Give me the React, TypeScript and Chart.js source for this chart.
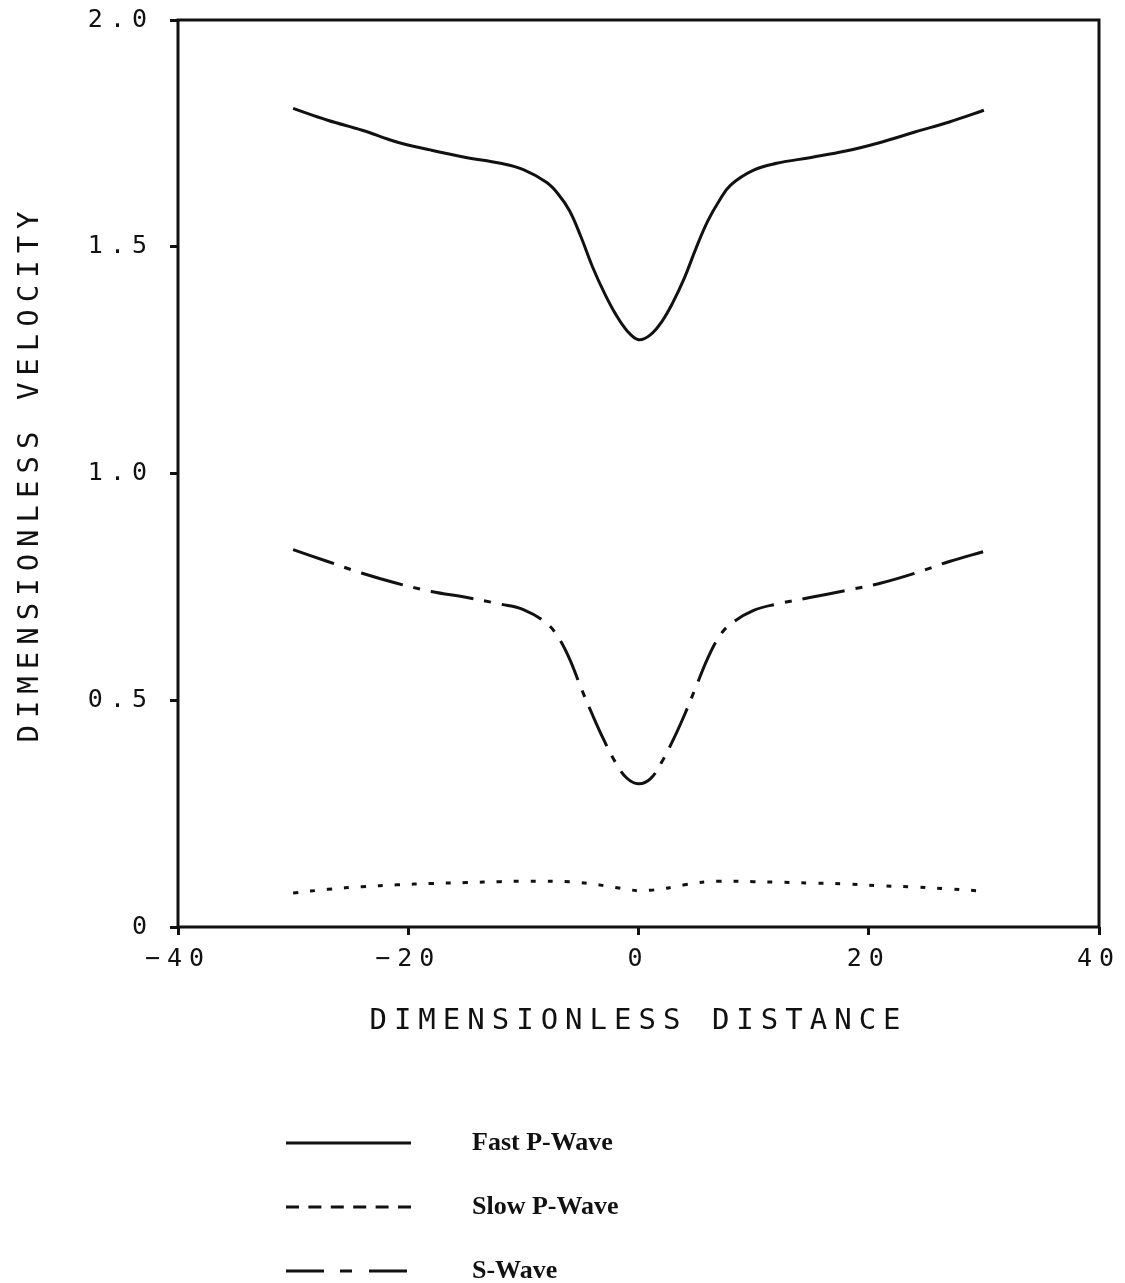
import { useEffect, useRef } from 'react';
import { Chart, registerables } from 'chart.js';

Chart.register(...registerables);

// Dimensionless distance (sample positions along the profile)
const distance = [
  -30, -27, -24, -21, -18, -15, -12, -10, -8, -7, -6, -5, -4, -3, -2, -1, 0,
  1, 2, 3, 4, 5, 6, 7, 8, 10, 12, 15, 18, 21, 24, 27, 30,
];

// Dimensionless velocity of each wave at those positions
const fastP = [
  1.805, 1.779, 1.757, 1.731, 1.713, 1.697, 1.684, 1.67, 1.642, 1.617, 1.58, 1.522, 1.456, 1.4, 1.352, 1.315, 1.295,
  1.305, 1.334, 1.378, 1.432, 1.497, 1.556, 1.601, 1.636, 1.669, 1.684, 1.697, 1.711, 1.73, 1.753, 1.775, 1.801,
];
const slowP = [
  0.075, 0.083, 0.089, 0.093, 0.096, 0.098, 0.1, 0.101, 0.101, 0.101, 0.1, 0.098, 0.095, 0.091, 0.087, 0.083, 0.08,
  0.081, 0.084, 0.088, 0.093, 0.097, 0.1, 0.101, 0.101, 0.1, 0.099, 0.097, 0.095, 0.091, 0.088, 0.084, 0.079,
];
const sWave = [
  0.832, 0.806, 0.78, 0.758, 0.74, 0.727, 0.712, 0.7, 0.67, 0.64, 0.592, 0.528, 0.468, 0.412, 0.363, 0.328, 0.316,
  0.326, 0.363, 0.412, 0.468, 0.53, 0.592, 0.64, 0.668, 0.698, 0.712, 0.727, 0.742, 0.758, 0.78, 0.806, 0.828,
];

const seriesLabels = ['Fast P-Wave', 'Slow P-Wave', 'S-Wave'];
const seriesValues = [fastP, slowP, sWave];

const xTitle = 'DIMENSIONLESS DISTANCE';
const yTitle = 'DIMENSIONLESS VELOCITY';

// Line styles of the curves and of the key samples
const plotDashes: number[][] = [[], [5, 12], [43, 11, 7, 11]];
const keyDashes: number[][] = [[], [13, 9.4], [38, 16, 12, 17]];

const INK = '#111';
const MONO = '"DejaVu Sans Mono", monospace';

// Wide plotter-style lettering for the axis texts
const spacingPlugin = {
  id: 'plotterSpacing',
  beforeLayout(chart: any) {
    chart.ctx.letterSpacing = '7px';
  },
  beforeDraw(chart: any) {
    chart.ctx.letterSpacing = '7px';
  },
};

// Closed frame around the plotting area
const framePlugin = {
  id: 'frame',
  afterDraw(chart: any) {
    const { ctx, chartArea } = chart;
    ctx.save();
    ctx.strokeStyle = INK;
    ctx.lineWidth = 3;
    ctx.strokeRect(chartArea.left, chartArea.top, chartArea.right - chartArea.left, chartArea.bottom - chartArea.top);
    ctx.restore();
  },
};

// Key below the chart: one row per curve, sample line then label
const keyPlugin = {
  id: 'curveKey',
  afterDraw(chart: any) {
    const { ctx } = chart;
    const rows = [1143, 1207, 1271];
    ctx.save();
    ctx.letterSpacing = '0px';
    chart.data.datasets.forEach((ds: any, i: number) => {
      const y = rows[i];
      ctx.strokeStyle = INK;
      ctx.lineWidth = 3;
      ctx.setLineDash(keyDashes[i]);
      ctx.beginPath();
      ctx.moveTo(286, y);
      ctx.lineTo(411, y);
      ctx.stroke();
      ctx.setLineDash([]);
      ctx.fillStyle = INK;
      ctx.font = 'bold 26px "Liberation Serif", serif';
      ctx.textAlign = 'left';
      ctx.textBaseline = 'middle';
      ctx.fillText(ds.label, 472, y);
    });
    ctx.restore();
  },
};

const fmt = (v: number) => {
  if (v === 0) return '0';
  const s = Number.isInteger(v) && Math.abs(v) >= 10 ? String(Math.abs(v)) : Math.abs(v).toFixed(1);
  return v < 0 ? '\u2212' + s : s;
};

export default function App() {
  const canvasRef = useRef<HTMLCanvasElement | null>(null);

  useEffect(() => {
    const canvas = canvasRef.current;
    if (!canvas) return;

    const datasets = seriesLabels.map((label, i) => ({
      label,
      data: distance.map((x, j) => ({ x, y: seriesValues[i][j] })),
      borderColor: INK,
      borderWidth: 3,
      borderDash: plotDashes[i],
      pointRadius: 0,
      fill: false,
      tension: 0.4,
    }));

    const chart = new Chart(canvas, {
      type: 'line',
      data: { datasets },
      options: {
        animation: false,
        responsive: false,
        devicePixelRatio: 1,
        layout: { padding: { left: 0, top: 20, right: 26, bottom: 226 } },
        plugins: {
          legend: { display: false },
          tooltip: { enabled: false },
        },
        scales: {
          x: {
            type: 'linear',
            min: -40,
            max: 40,
            afterFit: (s: any) => {
              s.height = 130;
              s.paddingLeft = 0;
              s.paddingRight = 0;
            },
            border: { display: false },
            grid: { drawOnChartArea: false, drawTicks: true, tickLength: 8, lineWidth: 3, color: INK },
            ticks: {
              stepSize: 20,
              autoSkip: false,
              maxRotation: 0,
              padding: 9,
              color: INK,
              font: { family: MONO, size: 25 },
              callback: (v: any) => fmt(Number(v)),
            },
            title: {
              display: true,
              text: xTitle,
              color: INK,
              font: { family: MONO, size: 29 },
              padding: { top: 0, bottom: 18 },
            },
          },
          y: {
            type: 'linear',
            min: 0,
            max: 2,
            afterFit: (s: any) => {
              s.width = 178;
              s.paddingTop = 0;
              s.paddingBottom = 0;
            },
            border: { display: false },
            grid: { drawOnChartArea: false, drawTicks: true, tickLength: 8, lineWidth: 3, color: INK },
            ticks: {
              stepSize: 0.5,
              autoSkip: false,
              padding: 16,
              color: INK,
              font: { family: MONO, size: 25 },
              callback: (v: any) => fmt(Number(v)),
            },
            title: {
              display: true,
              text: yTitle,
              color: INK,
              font: { family: MONO, size: 29 },
              padding: { top: 13, bottom: 0 },
            },
          },
        },
      },
      plugins: [spacingPlugin, framePlugin, keyPlugin],
    });

    return () => chart.destroy();
  }, []);

  return (
    <div style={{ position: 'absolute', left: 0, top: 0, width: 1125, height: 1283, background: '#fff' }}>
      <canvas ref={canvasRef} width={1125} height={1283} style={{ display: 'block' }} />
    </div>
  );
}
